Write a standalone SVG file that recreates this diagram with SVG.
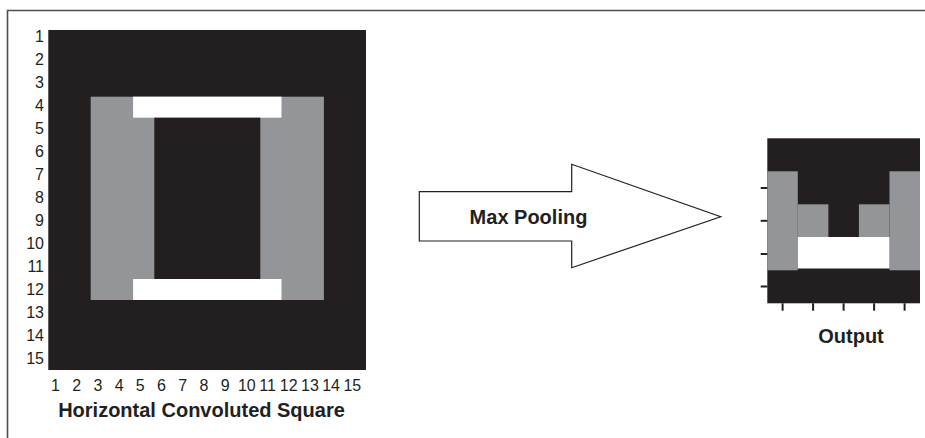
<svg xmlns="http://www.w3.org/2000/svg" width="925" height="438" viewBox="0 0 925 438">
<style>
.blk{fill:#231f20}
.gry{fill:#939598}
.wht{fill:#ffffff}
.num{font-family:"Liberation Sans",Arial,sans-serif;font-size:16px;fill:#231f20}
.ttl{font-family:"Liberation Sans",Arial,sans-serif;font-size:20px;font-weight:bold;fill:#231f20}
.tick{stroke:#231f20;stroke-width:2}
</style>
<rect width="925" height="438" fill="#ffffff"/>
<g id="frame" fill="none" stroke="#4d4d4d" stroke-width="1.6">
<path d="M7.5,438 V10.5 H925"/>
</g>
<g id="input-square">
<rect class="blk" x="48.3" y="30" width="317.7" height="340"/>
<rect class="gry" x="90.7" y="96.7" width="233.2" height="203.3"/>
<rect class="wht" x="133.1" y="96.7" width="148.4" height="21"/>
<rect class="blk" x="154.3" y="117.7" width="106" height="161.3"/>
<rect class="wht" x="133.1" y="279" width="148.4" height="21"/>
</g>
<g id="y-labels" class="num" text-anchor="end">
<text x="44" y="41.8">1</text>
<text x="44" y="64.8">2</text>
<text x="44" y="87.8">3</text>
<text x="44" y="110.8">4</text>
<text x="44" y="133.8">5</text>
<text x="44" y="156.8">6</text>
<text x="44" y="179.8">7</text>
<text x="44" y="202.8">8</text>
<text x="44" y="225.8">9</text>
<text x="44" y="248.8">10</text>
<text x="44" y="271.8">11</text>
<text x="44" y="294.8">12</text>
<text x="44" y="317.8">13</text>
<text x="44" y="340.8">14</text>
<text x="44" y="363.8">15</text>
</g>
<g id="x-labels" class="num" text-anchor="middle">
<text x="55.5" y="390.5">1</text>
<text x="76.7" y="390.5">2</text>
<text x="97.9" y="390.5">3</text>
<text x="119.1" y="390.5">4</text>
<text x="140.3" y="390.5">5</text>
<text x="161.5" y="390.5">6</text>
<text x="182.7" y="390.5">7</text>
<text x="203.9" y="390.5">8</text>
<text x="225.1" y="390.5">9</text>
<text x="246.8" y="390.5">10</text>
<text x="267.5" y="390.5">11</text>
<text x="288.7" y="390.5">12</text>
<text x="309.9" y="390.5">13</text>
<text x="331.1" y="390.5">14</text>
<text x="352.3" y="390.5">15</text>
</g>
<g id="input-title">
<text class="ttl" x="201.5" y="416.5" text-anchor="middle">Horizontal Convoluted Square</text>
</g>
<g id="connectors">
<g id="max-pooling-arrow">
<polygon points="419.3,191.7 571.7,191.7 571.7,164.3 720.7,216.7 571.7,267.7 571.7,241 419.3,241" fill="#ffffff" stroke="#231f20" stroke-width="1.2"/>
<text class="ttl" x="528.5" y="224" text-anchor="middle">Max Pooling</text>
</g>
</g>
<g id="output-grid">
<rect class="blk" x="767.3" y="138.3" width="152.7" height="165"/>
<rect class="gry" x="767.3" y="171.3" width="30.5" height="99"/>
<rect class="gry" x="889.5" y="171.3" width="30.5" height="99"/>
<rect class="gry" x="797.8" y="204.3" width="30.6" height="33"/>
<rect class="gry" x="858.9" y="204.3" width="30.6" height="33"/>
<rect class="wht" x="797.8" y="237" width="91.7" height="31.5"/>
<g id="output-ticks">
<line class="tick" x1="760.7" y1="188" x2="767.3" y2="188"/>
<line class="tick" x1="760.7" y1="220.8" x2="767.3" y2="220.8"/>
<line class="tick" x1="760.7" y1="254" x2="767.3" y2="254"/>
<line class="tick" x1="760.7" y1="286.5" x2="767.3" y2="286.5"/>
<line class="tick" x1="782.6" y1="303.3" x2="782.6" y2="310.7"/>
<line class="tick" x1="813.1" y1="303.3" x2="813.1" y2="310.7"/>
<line class="tick" x1="843.6" y1="303.3" x2="843.6" y2="310.7"/>
<line class="tick" x1="874.1" y1="303.3" x2="874.1" y2="310.7"/>
<line class="tick" x1="904.6" y1="303.3" x2="904.6" y2="310.7"/>
</g>
<text class="ttl" x="851" y="342.7" text-anchor="middle">Output</text>
</g>
</svg>
